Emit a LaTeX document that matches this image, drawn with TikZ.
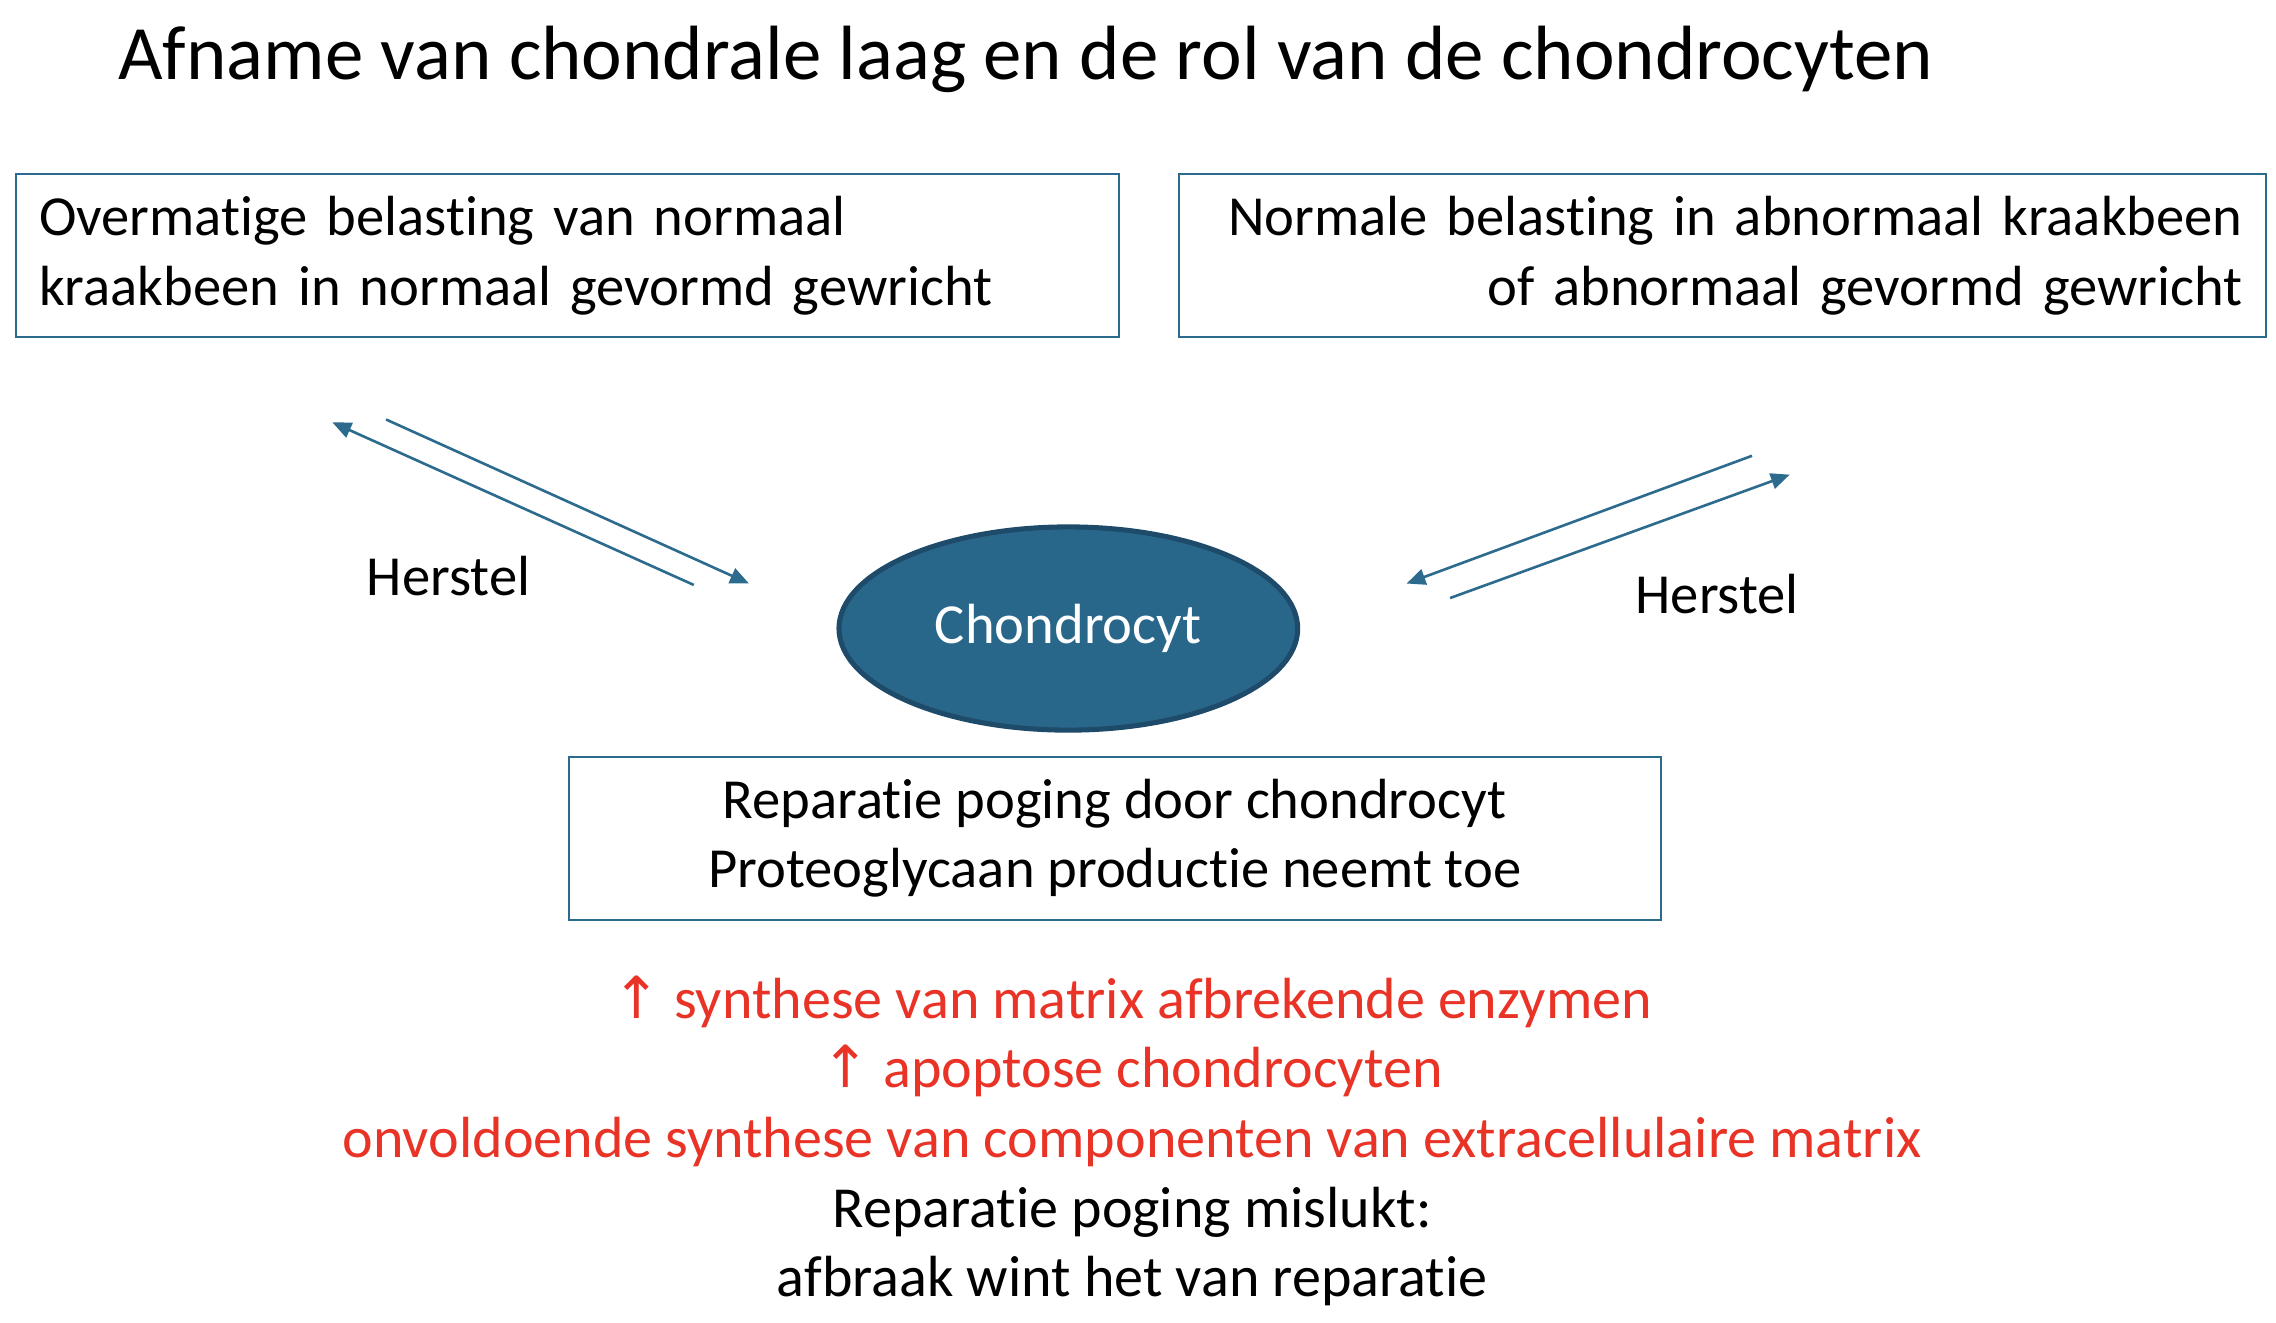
\documentclass[tikz,border=0pt]{standalone}
\usepackage{fontspec}
\setmainfont{Carlito}[Ligatures=NoCommon]
\newfontfamily\symfont{DejaVu Sans}
\usetikzlibrary{arrows.meta,shapes.geometric}
\definecolor{boxblue}{RGB}{44,107,142}
\definecolor{cellfill}{RGB}{41,103,138}
\definecolor{celldraw}{RGB}{30,75,105}
\definecolor{alertred}{RGB}{232,51,38}
\tikzset{
  body/.style={font=\fontsize{39}{48}\selectfont},
  causebox/.style={body, draw=boxblue, line width=1.4pt, minimum height=112pt, inner xsep=15pt},
  loop/.style={draw=boxblue, line width=1.8pt, -{Triangle[length=13pt,width=11pt]}}
}
\begin{document}
\begin{tikzpicture}[x=1pt, y=-1pt]
            \useasboundingbox (0,0) rectangle (1568,911);

            \node[anchor=base west, font=\fontsize{53}{60}\selectfont] (title) at (78,55) {Afname van chondrale laag en de rol van de chondrocyten};

            \node[causebox, minimum width=760pt, text width=728pt, align=left] (excess) at (391,176) {Overmatige belasting van normaal\\kraakbeen in normaal gevormd gewricht};
            \node[causebox, minimum width=749pt, text width=717pt, align=right] (abnormal) at (1186.5,176) {Normale belasting in abnormaal kraakbeen\\of abnormaal gevormd gewricht};

            \node[ellipse, body, fill=cellfill, draw=celldraw, line width=3.5pt, text=white, minimum width=316pt, minimum height=140pt] (cell) at (736,433) {Chondrocyt};

            \node[causebox, minimum width=752pt, align=center] (repair) at (768,577.5) {Reparatie poging door chondrocyt\\Proteoglycaan productie neemt toe};

            \node[font=\fontsize{40}{48}\selectfont, align=center] (outcome) at (780,786) {\textcolor{alertred}{{\symfont↑} synthese van matrix afbrekende enzymen}\\
              \textcolor{alertred}{{\symfont↑} apoptose chondrocyten}\\
              \textcolor{alertred}{onvoldoende synthese van componenten van extracellulaire matrix}\\
              Reparatie poging mislukt:\\
              afbraak wint het van reparatie};

            \node[body] (herstelL) at (309,397) {Herstel};
            \node[body] (herstelR) at (1183,409) {Herstel};

            \coordinate (l1) at (229,291);
            \coordinate (l2) at (478,403);
            \coordinate (l3) at (266,289);
            \coordinate (l4) at (516,402);
            \coordinate (r1) at (1207,314);
            \coordinate (r2) at (969,402);
            \coordinate (r3) at (999,412);
            \coordinate (r4) at (1233,327);

            \draw[loop] (l2) -- (l1);
            \draw[loop] (l3) -- (l4);
            \draw[loop] (r1) -- (r2);
            \draw[loop] (r3) -- (r4);
        \end{tikzpicture}
\end{document}
